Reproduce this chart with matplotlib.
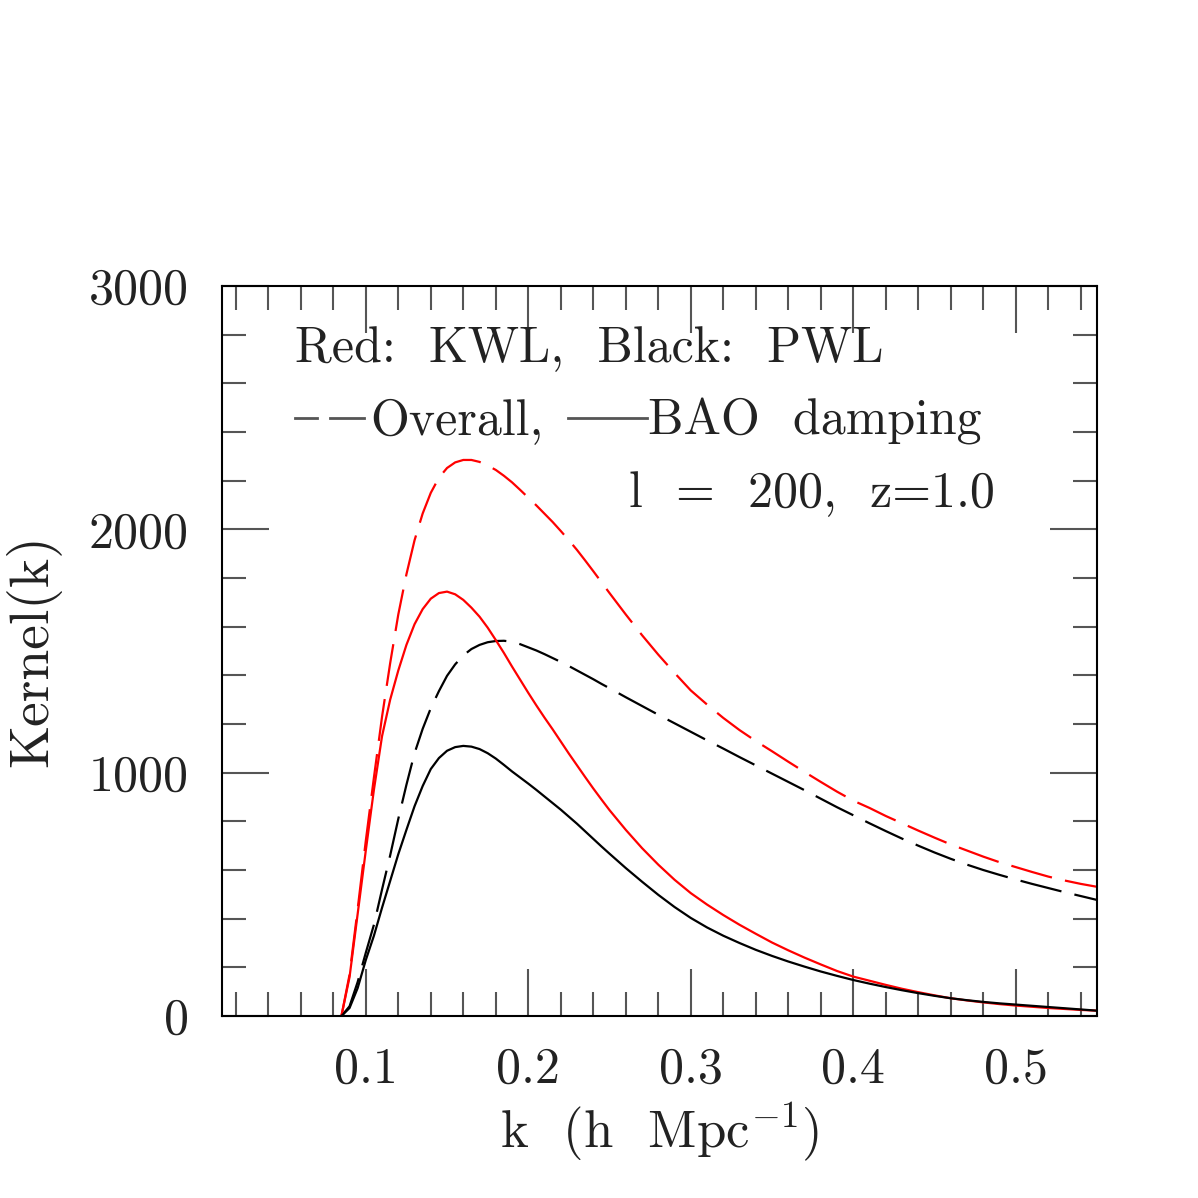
import matplotlib
matplotlib.use("Agg")
import matplotlib.pyplot as plt
from matplotlib.lines import Line2D
from matplotlib.ticker import MultipleLocator

plt.rcParams['font.family'] = ['cmr10', 'DejaVu Serif']
plt.rcParams['axes.formatter.use_mathtext'] = True
plt.rcParams['mathtext.fontset'] = 'cm'

# values
k = [0.085, 0.09, 0.095, 0.10, 0.105, 0.11, 0.115, 0.12, 0.125, 0.13, 0.135,
     0.14, 0.145, 0.15, 0.155, 0.16, 0.165, 0.17, 0.175, 0.18, 0.185, 0.19,
     0.195, 0.20, 0.205, 0.21, 0.215, 0.22, 0.225, 0.23, 0.235, 0.24, 0.245,
     0.25, 0.26, 0.27, 0.28, 0.29, 0.30, 0.31, 0.32, 0.33, 0.34, 0.35, 0.36,
     0.37, 0.38, 0.39, 0.40, 0.41, 0.42, 0.43, 0.44, 0.45, 0.46, 0.47, 0.48,
     0.49, 0.50, 0.51, 0.52, 0.53, 0.54, 0.55]

kwl_overall = [0, 170, 440, 720, 980, 1230, 1450, 1650, 1815, 1955, 2065,
               2150, 2212, 2252, 2275, 2285, 2285, 2277, 2262, 2244, 2220, 2193,
               2162, 2130, 2098, 2064, 2030, 1993, 1955, 1915, 1872, 1828, 1783,
               1738, 1650, 1565, 1485, 1410, 1338, 1280, 1225, 1175, 1130, 1088, 1045,
               1003, 962, 922, 885, 855, 822, 792, 762, 733, 705, 680, 655,
               632, 612, 592, 573, 557, 543, 531]
kwl_bao = [0, 160, 420, 680, 930, 1150, 1300, 1420, 1525, 1610, 1672,
           1715, 1738, 1744, 1733, 1710, 1678, 1641, 1596, 1545, 1492, 1436,
           1382, 1328, 1276, 1226, 1178, 1128, 1078, 1030, 982, 935, 890,
           846, 765, 690, 622, 560, 505, 458, 415, 375, 338, 302, 270,
           240, 212, 185, 162, 145, 128, 112, 98, 85, 73, 64, 56,
           49, 43, 38, 33, 29, 25, 22]
pwl_overall = [0, 40, 140, 260, 375, 520, 660, 810, 950, 1080, 1180,
               1265, 1335, 1398, 1445, 1482, 1508, 1525, 1536, 1541, 1542, 1538,
               1528, 1515, 1502, 1487, 1471, 1455, 1438, 1420, 1402, 1384, 1365,
               1347, 1310, 1274, 1238, 1203, 1168, 1133, 1099, 1064, 1030, 996, 962,
               928, 893, 858, 825, 792, 760, 729, 700, 672, 646, 622, 600,
               580, 561, 543, 526, 509, 493, 477]
pwl_bao = [0, 33, 115, 230, 330, 445, 555, 665, 765, 862, 945,
           1015, 1060, 1090, 1105, 1110, 1107, 1097, 1080, 1058, 1032, 1005,
           980, 955, 929, 902, 875, 848, 819, 790, 759, 728, 697,
           667, 608, 552, 498, 448, 403, 364, 330, 300, 272, 247, 224,
           203, 183, 165, 148, 133, 119, 106, 94, 83, 73, 65, 58,
           52, 47, 42, 37, 32, 27, 22]

xticks = [0.1, 0.2, 0.3, 0.4, 0.5]
xticklabels = ['0.1', '0.2', '0.3', '0.4', '0.5']
yticks = [0, 1000, 2000, 3000]
yticklabels = ['0', '1000', '2000', '3000']

txt = '#222222'
grey = '#555555'
dash = (19, 6)
fs = 36

fig = plt.figure(figsize=(11.98, 11.98), dpi=100)
ax = fig.add_axes([0.1853, 0.1519, 0.9157 - 0.1853, 0.7613 - 0.1519])

ax.plot(k, kwl_overall, color='red', lw=1.6, dashes=dash)
ax.plot(k, pwl_overall, color='black', lw=1.6, dashes=dash)
ax.plot(k, kwl_bao, color='red', lw=1.6)
ax.plot(k, pwl_bao, color='black', lw=1.6)

ax.set_xlim(0.0115, 0.55)
ax.set_ylim(0, 3000)
ax.set_xticks(xticks)
ax.set_xticklabels(xticklabels)
ax.set_yticks(yticks)
ax.set_yticklabels(yticklabels)
ax.xaxis.set_minor_locator(MultipleLocator(0.02))
ax.yaxis.set_minor_locator(MultipleLocator(200))
ax.tick_params(which='both', direction='in', top=True, right=True,
               labelsize=fs, labelcolor=txt, color=grey, width=1.5)
ax.tick_params(which='major', length=34)
ax.tick_params(which='minor', length=17)
ax.tick_params(axis='y', which='major', pad=24)
ax.tick_params(axis='x', which='major', pad=22)
for s in ax.spines.values():
    s.set_linewidth(1.5)

ax.set_xlabel(r'k  (h  Mpc$^{-1}$)', fontsize=fs + 2, color=txt, labelpad=6)
ax.set_ylabel('Kernel(k)', fontsize=fs + 4, color=txt, labelpad=20)

ax.text(0.083, 0.896, 'Red:  KWL,  Black:  PWL', transform=ax.transAxes,
        fontsize=fs, color=txt, va='baseline')
ax.text(0.169, 0.796, 'Overall,', transform=ax.transAxes,
        fontsize=fs, color=txt, va='baseline')
ax.text(0.487, 0.796, 'BAO  damping', transform=ax.transAxes,
        fontsize=fs, color=txt, va='baseline')
ax.text(0.674, 0.697, 'l  =  200,  z=1.0', transform=ax.transAxes,
        fontsize=fs, color=txt, va='baseline', ha='center')
ax.add_line(Line2D([0.083, 0.109], [0.819, 0.819], transform=ax.transAxes,
                   color=grey, lw=2))
ax.add_line(Line2D([0.123, 0.162], [0.819, 0.819], transform=ax.transAxes,
                   color=grey, lw=2))
ax.add_line(Line2D([0.395, 0.486], [0.819, 0.819], transform=ax.transAxes,
                   color=grey, lw=2))

fig.savefig('out.png', dpi=100)
